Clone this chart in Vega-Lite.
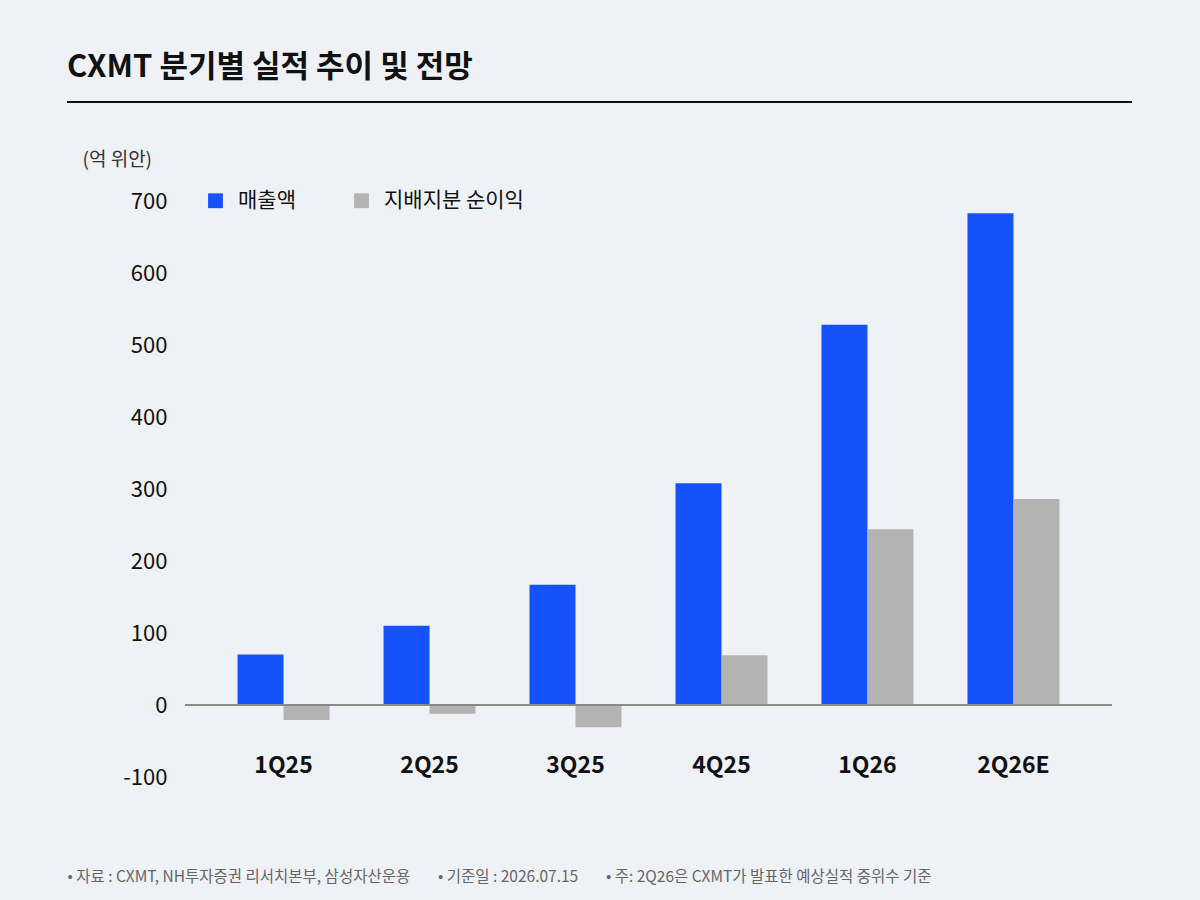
{
  "$schema": "https://vega.github.io/schema/vega-lite/v6.json",
  "autosize": "none",
  "width": 927,
  "height": 576,
  "padding": {"left": 185, "top": 201, "right": 88, "bottom": 123},
  "background": "#eef1f6",
  "title": {
    "text": "CXMT 분기별 실적 추이 및 전망",
    "anchor": "start",
    "frame": "group",
    "dx": -118,
    "offset": 17,
    "fontSize": 31,
    "fontWeight": "bold",
    "color": "#111111",
    "font": "Noto Sans CJK KR"
  },
  "data": {
    "values": [
      {"q": "1Q25", "series": "매출액", "v": 70},
      {"q": "1Q25", "series": "지배지분 순이익", "v": -21},
      {"q": "2Q25", "series": "매출액", "v": 110},
      {"q": "2Q25", "series": "지배지분 순이익", "v": -12},
      {"q": "3Q25", "series": "매출액", "v": 167},
      {"q": "3Q25", "series": "지배지분 순이익", "v": -31},
      {"q": "4Q25", "series": "매출액", "v": 308},
      {"q": "4Q25", "series": "지배지분 순이익", "v": 69},
      {"q": "1Q26", "series": "매출액", "v": 528},
      {"q": "1Q26", "series": "지배지분 순이익", "v": 244},
      {"q": "2Q26E", "series": "매출액", "v": 683},
      {"q": "2Q26E", "series": "지배지분 순이익", "v": 286}
    ]
  },
  "layer": [
    {
      "mark": {"type": "bar"},
      "encoding": {
        "x": {
          "field": "q", "type": "nominal", "sort": null,
          "scale": {"paddingInner": 0.37, "paddingOuter": 0.36},
          "axis": {
            "title": "• 자료 : CXMT, NH투자증권 리서치본부, 삼성자산운용\u00a0\u00a0\u00a0\u00a0\u00a0\u00a0\u00a0\u00a0• 기준일 : 2026.07.15\u00a0\u00a0\u00a0\u00a0\u00a0\u00a0\u00a0\u00a0• 주: 2Q26은 CXMT가 발표한 예상실적 중위수 기준",
            "titleAnchor": "start", "titleX": -118, "titleY": 92,
            "titleFontSize": 15.5, "titleFontWeight": "normal", "titleColor": "#666666",
            "domain": false, "ticks": false, "labelAngle": 0,
            "labelPadding": -12, "labelBaseline": "middle",
            "labelFontSize": 23, "labelFontWeight": "bold", "labelColor": "#111111"
          }
        },
        "xOffset": {"field": "series", "type": "nominal"},
        "y": {
          "field": "v", "type": "quantitative",
          "scale": {"domain": [-100, 700], "nice": false},
          "axis": {
            "values": [-100, 0, 100, 200, 300, 400, 500, 600, 700],
            "labelExpr": "replace(datum.label, '−', '-')",
            "title": "(억 위안)", "titleAngle": 0, "titleAlign": "left",
            "titleX": -103, "titleY": -32, "titleFontSize": 19,
            "titleFontWeight": "normal", "titleColor": "#333333",
            "grid": false, "domain": false, "ticks": false,
            "labelPadding": 18, "labelFontSize": 22, "labelColor": "#111111"
          }
        },
        "color": {
          "field": "series", "type": "nominal",
          "scale": {"domain": ["매출액", "지배지분 순이익"], "range": ["#1652fb", "#b3b3b3"]},
          "legend": {
            "title": null, "orient": "none", "direction": "horizontal",
            "legendX": 20, "legendY": -11, "symbolType": "square",
            "symbolSize": 220, "symbolStrokeWidth": 0, "labelFontSize": 21,
            "labelColor": "#111111", "columnPadding": 55, "labelOffset": 12
          }
        }
      }
    },
    {
      "mark": {"type": "rule", "color": "#888888", "strokeWidth": 1},
      "encoding": {"y": {"datum": 0}}
    },
    {
      "mark": {"type": "rule", "color": "#111111", "strokeWidth": 2, "clip": false},
      "encoding": {"y": {"datum": 837.5}, "x": {"value": -118}, "x2": {"value": 947}}
    }
  ],
  "config": {
    "font": "Noto Sans CJK KR",
    "view": {"stroke": null}
  }
}
